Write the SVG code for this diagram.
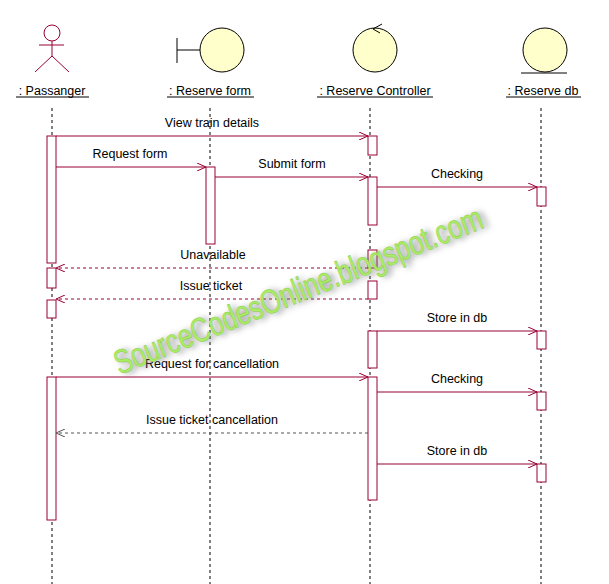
<svg xmlns="http://www.w3.org/2000/svg" width="609" height="584" viewBox="0 0 609 584">
<defs>
<style>
text{font-family:"Liberation Sans",Arial,sans-serif;font-size:12.5px;fill:#000}
.ll{stroke:#000;stroke-dasharray:3,3;fill:none}
.act{fill:#fff;stroke:#990033;stroke-width:1}
.m{stroke:#990033;fill:none;marker-end:url(#a)}
.r{stroke:#990033;fill:none;stroke-dasharray:3,3;marker-end:url(#a)}
.g{stroke:#555;fill:none;stroke-dasharray:3,3;marker-end:url(#ag)}
.obj{fill:#ffffcc;stroke:#000}
.c{text-anchor:middle}
.wm{font-size:34px;text-anchor:middle}
</style>
<marker id="a" markerWidth="10" markerHeight="8" refX="9" refY="4" orient="auto" markerUnits="userSpaceOnUse"><path d="M0,0L9,4L0,8" fill="none" stroke="#990033"/></marker>
<marker id="ag" markerWidth="10" markerHeight="8" refX="9" refY="4" orient="auto" markerUnits="userSpaceOnUse"><path d="M0,0L9,4L0,8" fill="none" stroke="#555"/></marker>
<filter id="sh" x="-20%" y="-50%" width="140%" height="200%"><feGaussianBlur stdDeviation="3"/></filter>
</defs>
<rect width="609" height="584" fill="#fff"/>
<g id="passanger">
<circle cx="52" cy="33" r="8" fill="none" stroke="#990033"/>
<path d="M52,41V56M39,45H64M52,56L35,72M52,56L69,72" stroke="#990033" fill="none"/>
<text x="52" y="95" class="c">: Passanger</text><path d="M16,97H89" stroke="#000"/>
<path class="ll" d="M52,108V584"/>
</g>
<g id="form">
<path d="M177,38V63M177,50H200" stroke="#000"/>
<circle cx="222" cy="50" r="22" class="obj"/>
<text x="210" y="95" class="c">: Reserve form</text><path d="M167,97H254" stroke="#000"/>
<path class="ll" d="M210,108V584"/>
</g>
<g id="controller">
<circle cx="375" cy="50" r="22" class="obj"/>
<path d="M382,24L373,29L380,33" stroke="#000" fill="none"/>
<text x="375" y="95" class="c">: Reserve Controller</text><path d="M317,97H433" stroke="#000"/>
<path class="ll" d="M370,108V584"/>
</g>
<g id="db">
<circle cx="545" cy="50" r="22" class="obj"/>
<path d="M521,73H567" stroke="#000"/>
<text x="543" y="95" class="c">: Reserve db</text><path d="M506,97H581" stroke="#000"/>
<path class="ll" d="M541,108V584"/>
</g>
<g id="activations">
<rect class="act" x="47" y="136" width="9" height="127"/>
<rect class="act" x="47" y="268" width="9" height="20"/>
<rect class="act" x="47" y="300" width="9" height="18"/>
<rect class="act" x="47" y="377" width="9" height="143"/>
<rect class="act" x="206" y="167" width="9" height="77"/>
<rect class="act" x="368" y="136" width="9" height="19"/>
<rect class="act" x="368" y="177" width="9" height="48"/>
<rect class="act" x="368" y="250" width="9" height="18"/>
<rect class="act" x="368" y="281" width="9" height="18"/>
<rect class="act" x="368" y="331" width="9" height="37"/>
<rect class="act" x="368" y="377" width="9" height="123"/>
<rect class="act" x="537" y="187" width="9" height="19"/>
<rect class="act" x="537" y="331" width="9" height="18"/>
<rect class="act" x="537" y="392" width="9" height="18"/>
<rect class="act" x="537" y="464" width="9" height="18"/>
</g>
<g id="connectors">
<path class="m" d="M56,136H368"/><text x="212" y="127" class="c">View train details</text>
<path class="m" d="M56,167H206"/><text x="130" y="158" class="c">Request form</text>
<path class="m" d="M215,177H368"/><text x="292" y="168" class="c">Submit form</text>
<path class="m" d="M377,187H537"/><text x="457" y="178" class="c">Checking</text>
<path class="r" d="M368,268H56"/><text x="213" y="259" class="c">Unavailable</text>
<path class="r" d="M368,299H56"/><text x="211" y="290" class="c">Issue ticket</text>
<path class="m" d="M377,331H537"/><text x="457" y="322" class="c">Store in db</text>
<path class="m" d="M56,377H368"/><text x="212" y="368" class="c">Request for cancellation</text>
<path class="m" d="M377,392H537"/><text x="457" y="383" class="c">Checking</text>
<path class="g" d="M368,433H56"/><text x="212" y="424" class="c">Issue ticket cancellation</text>
<path class="m" d="M377,464H537"/><text x="457" y="455" class="c">Store in db</text>
</g>
<g id="watermark" transform="translate(298,290) rotate(-22)">
<text class="wm" x="4" y="14" style="fill:#777" filter="url(#sh)" textLength="395" lengthAdjust="spacingAndGlyphs">SourceCodesOnline.blogspot.com</text>
<text class="wm" x="0" y="12" style="fill:#aaee66;stroke:#88cc44;stroke-width:0.5" textLength="395" lengthAdjust="spacingAndGlyphs">SourceCodesOnline.blogspot.com</text>
</g>
</svg>
